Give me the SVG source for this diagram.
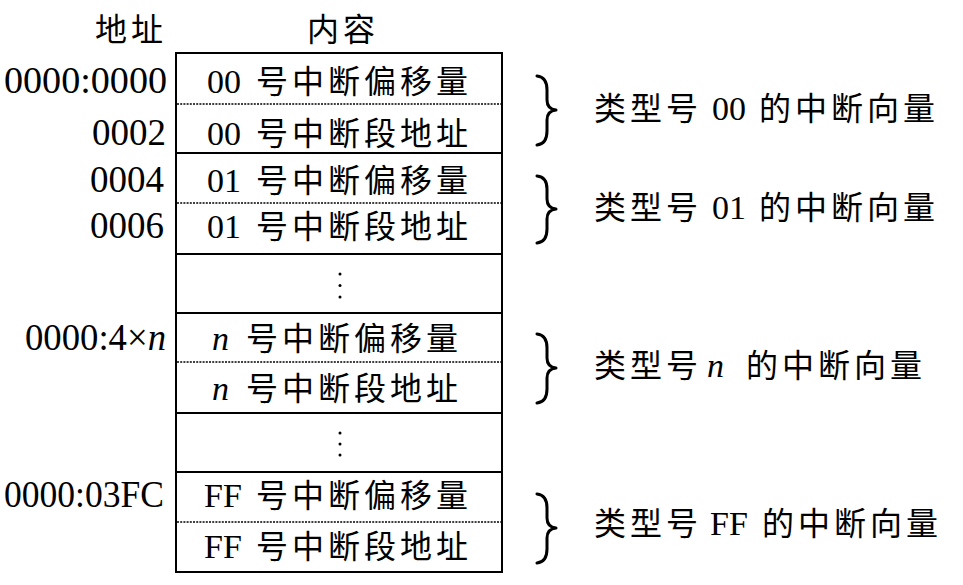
<svg xmlns="http://www.w3.org/2000/svg" width="963" height="585" viewBox="0 0 963 585">
<style>
.cjk{font-family:"Noto Sans CJK SC","Noto Sans",sans-serif;font-size:32px;letter-spacing:4px;fill:#000}
.lat{font-family:"Liberation Serif",serif;font-size:34px;fill:#000}
.adr{font-family:"Liberation Serif",serif;font-size:37px;fill:#000;text-anchor:end}
.it{font-style:italic}
.box{fill:none;stroke:#000;stroke-width:2}
.sep{stroke:#000;stroke-width:2}
.dot{stroke:#000;stroke-width:1.4;stroke-dasharray:2 1.2}
.brace{fill:none;stroke:#000;stroke-width:3;stroke-linecap:round;stroke-linejoin:round}
.el{fill:#000}
</style>
<g id="headers">
<text class="cjk" x="95" y="41">地址</text>
<text class="cjk" x="307" y="41">内容</text>
</g>
<g id="addresses">
<text class="adr" x="167" y="93" textLength="163" lengthAdjust="spacingAndGlyphs">0000:0000</text>
<text class="adr" x="166" y="145">0002</text>
<text class="adr" x="164" y="192">0004</text>
<text class="adr" x="164" y="238">0006</text>
<text class="adr" x="166" y="350" textLength="141" lengthAdjust="spacingAndGlyphs">0000:4×<tspan class="it">n</tspan></text>
<text class="adr" x="164" y="507" textLength="160" lengthAdjust="spacingAndGlyphs">0000:03FC</text>
</g>
<g id="table">
<rect class="box" x="176" y="53" width="326" height="519"/>
<line class="sep" x1="176" y1="153" x2="502" y2="153"/>
<line class="sep" x1="176" y1="254" x2="502" y2="254"/>
<line class="sep" x1="176" y1="313" x2="502" y2="313"/>
<line class="sep" x1="176" y1="413" x2="502" y2="413"/>
<line class="sep" x1="176" y1="472" x2="502" y2="472"/>
<line class="dot" x1="177" y1="104" x2="501" y2="104"/>
<line class="dot" x1="177" y1="203" x2="501" y2="203"/>
<line class="dot" x1="177" y1="362" x2="501" y2="362"/>
<line class="dot" x1="177" y1="522" x2="501" y2="522"/>
</g>
<g id="row-00">
<text y="93"><tspan class="lat" x="207">00</tspan><tspan class="cjk" x="256">号中断偏移量</tspan></text>
<text y="145"><tspan class="lat" x="207">00</tspan><tspan class="cjk" x="256">号中断段地址</tspan></text>
</g>
<g id="row-01">
<text y="192"><tspan class="lat" x="207">01</tspan><tspan class="cjk" x="256">号中断偏移量</tspan></text>
<text y="238"><tspan class="lat" x="207">01</tspan><tspan class="cjk" x="256">号中断段地址</tspan></text>
</g>
<g id="ellipsis-1">
<circle class="el" cx="340" cy="274" r="1.5"/>
<circle class="el" cx="340" cy="285.5" r="1.5"/>
<circle class="el" cx="340" cy="297" r="1.5"/>
</g>
<g id="row-n">
<text y="350"><tspan class="lat it" x="212">n</tspan><tspan class="cjk" x="246">号中断偏移量</tspan></text>
<text y="400"><tspan class="lat it" x="212">n</tspan><tspan class="cjk" x="246">号中断段地址</tspan></text>
</g>
<g id="ellipsis-2">
<circle class="el" cx="340" cy="433" r="1.5"/>
<circle class="el" cx="340" cy="444" r="1.5"/>
<circle class="el" cx="340" cy="455" r="1.5"/>
</g>
<g id="row-FF">
<text y="507"><tspan class="lat" x="204">FF</tspan><tspan class="cjk" x="256">号中断偏移量</tspan></text>
<text y="558"><tspan class="lat" x="204">FF</tspan><tspan class="cjk" x="256">号中断段地址</tspan></text>
</g>
<g id="connectors">
<path class="brace" d="M537,76 Q547,77 547,90 L547,100 Q547,109 556,110 Q547,111 547,120 L547,131 Q547,144 537,145"/>
<path class="brace" d="M537,176 Q547,177 547,189 L547,199 Q547,208 556,209 Q547,210 547,219 L547,229 Q547,242 537,243"/>
<path class="brace" d="M537,334 Q547,335 547,348 L547,358 Q547,367 556,368 Q547,369 547,378 L547,389 Q547,402 537,403"/>
<path class="brace" d="M537,494 Q547,495 547,508 L547,518 Q547,527 556,528 Q547,529 547,538 L547,549 Q547,562 537,563"/>
</g>
<g id="label-00">
<text y="120"><tspan class="cjk" x="594">类型号</tspan><tspan class="lat" x="712">00</tspan><tspan class="cjk" x="759">的中断向量</tspan></text>
</g>
<g id="label-01">
<text y="219"><tspan class="cjk" x="594">类型号</tspan><tspan class="lat" x="712">01</tspan><tspan class="cjk" x="759">的中断向量</tspan></text>
</g>
<g id="label-n">
<text y="377"><tspan class="cjk" x="594">类型号</tspan><tspan class="lat it" x="707">n</tspan><tspan class="cjk" x="746">的中断向量</tspan></text>
</g>
<g id="label-FF">
<text y="535"><tspan class="cjk" x="594">类型号</tspan><tspan class="lat" x="710">FF</tspan><tspan class="cjk" x="762">的中断向量</tspan></text>
</g>
</svg>
